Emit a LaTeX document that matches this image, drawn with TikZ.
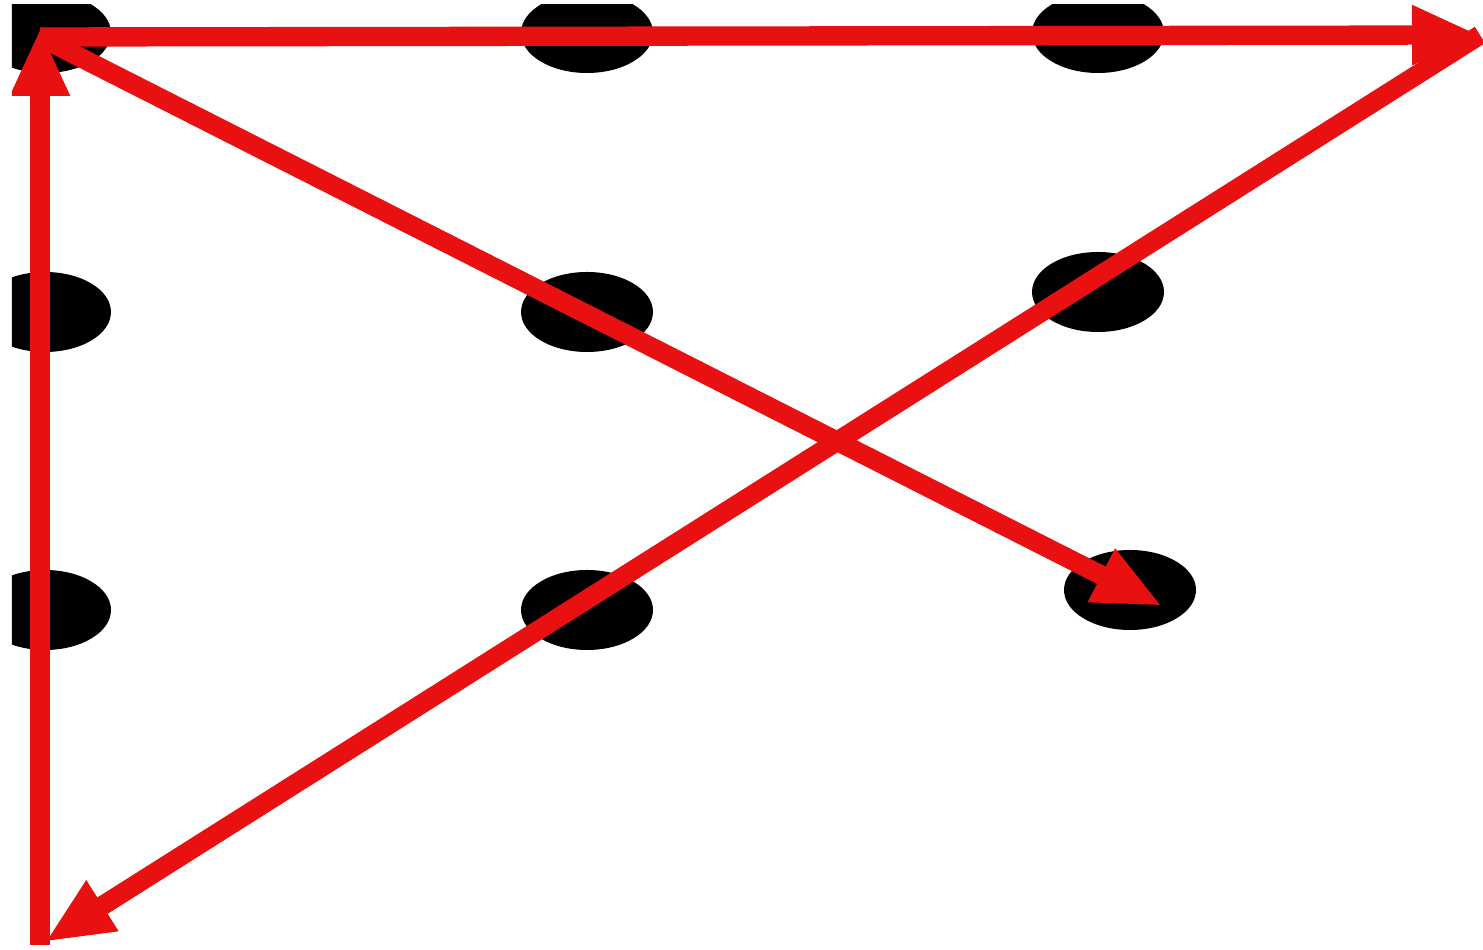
\documentclass[tikz,border=0pt]{standalone}
\usetikzlibrary{shapes.geometric,arrows.meta}
\definecolor{pen}{RGB}{232,16,16}
\tikzset{
  dot/.style={ellipse, fill=black, minimum width=1.32cm, minimum height=0.80cm, inner sep=0pt},
  redline/.style={draw=pen, line width=5.5pt, -{Triangle[length=0.68cm, width=0.55cm]}}
}
\begin{document}
\begin{tikzpicture}
\useasboundingbox (0,0) rectangle (14.83,9.50);
\clip (0.12,0) rectangle (14.83,9.45);
% dots
\node[dot] (d11) at (0.45,9.17) {};
\node[dot] (d12) at (5.87,9.17) {};
\node[dot] (d13) at (10.98,9.17) {};
\node[dot] (d21) at (0.45,6.38) {};
\node[dot] (d22) at (5.87,6.38) {};
\node[dot] (d23) at (10.98,6.58) {};
\node[dot] (d31) at (0.45,3.40) {};
\node[dot] (d32) at (5.87,3.40) {};
\node[dot] (d33) at (11.30,3.60) {};
% corners of the path
\coordinate (start) at (0.40,9.13);
\coordinate (right) at (14.80,9.15);
\coordinate (low) at (0.45,0.08);
\coordinate (base) at (0.40,0.05);
\coordinate (top) at (0.40,9.22);
\coordinate (stop) at (11.62,3.44);
% the four strokes
\draw[redline] (start) -- (right);
\draw[redline] (right) -- (low);
\draw[redline] (base) -- (top);
\draw[redline] (start) -- (stop);
\end{tikzpicture}
\end{document}
